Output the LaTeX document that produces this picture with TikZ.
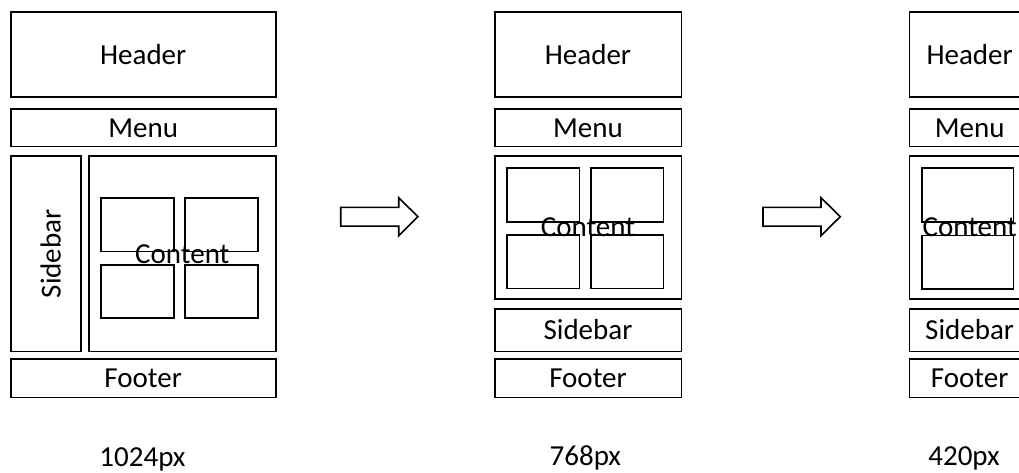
\documentclass[tikz,border=0pt]{standalone}
\usepackage{fontspec}
\setmainfont{Carlito}
\usetikzlibrary{shapes.geometric, arrows}
\tikzstyle{box} = [draw,line width=1.6pt,inner sep=0pt,font=\fontsize{29}{31}\selectfont]
\tikzstyle{cell} = [draw,line width=1.6pt]
\tikzstyle{blockarrow} = [draw,line width=1.6pt,line join=miter]
\tikzstyle{size} = [anchor=base,font=\fontsize{29}{31}\selectfont]

\begin{document}
\begin{tikzpicture}[x=1pt,y=-1pt]

\useasboundingbox (0,0) rectangle (1019,473);
\clip (0,0) rectangle (1019,473);

\foreach \c/\cx/\w in {A/143.2/265, B/588/186.6, C/969.65/120.7}
{
\node[box,minimum width=\w,minimum height=85] (header\c) at (\cx,54.8) {Header};
\node[box,minimum width=\w,minimum height=37.4] (menu\c) at (\cx,128) {Menu};
\node[box,minimum width=\w,minimum height=38.3] (footer\c) at (\cx,378.15) {Footer};
}

%1024px layout
\node[box,rotate=90,text height=30,minimum width=195,minimum height=70] (sidebarA) at (45.7,253.8) {Sidebar};
\node[box,minimum width=186.7,minimum height=195] (contentA) at (182.35,253.8) {Content};
\foreach \x in {101,185}
{
 \foreach \y in {198,264.7}
 {
 \draw[cell] (\x,\y) rectangle ++(72.7,53.4);
 }
}

%768px layout
\node[box,minimum width=186.6,minimum height=142.7] (contentB) at (588,227.65) {Content};
\node[box,minimum width=186.6,minimum height=42.6] (sidebarB) at (588,330) {Sidebar};
\foreach \x in {506.7,590.7}
{
 \foreach \y in {168.3,235}
 {
 \draw[cell] (\x,\y) rectangle ++(72.6,53.5);
 }
}

%420px layout
\node[box,minimum width=120.7,minimum height=142.7] (contentC) at (969.65,227.65) {Content};
\node[box,minimum width=120.7,minimum height=42.6] (sidebarC) at (969.65,330) {Sidebar};
\foreach \y in {168.3,235.5}
{
 \draw[cell] (921.7,\y) rectangle ++(91.6,53.5);
}

\foreach \ax in {340.7,763}
{
\draw[blockarrow] (\ax,207.3) -- ++(58,0) -- ++(0,-9.6) -- ++(19.2,19) -- ++(-19.2,19) -- ++(0,-9.6) -- ++(-58,0) -- cycle;
}

\node[size] (widthA) at (142.5,466.5) {1024px};
\node[size] (widthB) at (585.3,465) {768px};
\node[size] (widthC) at (964,465) {420px};

\end{tikzpicture}
\end{document}
